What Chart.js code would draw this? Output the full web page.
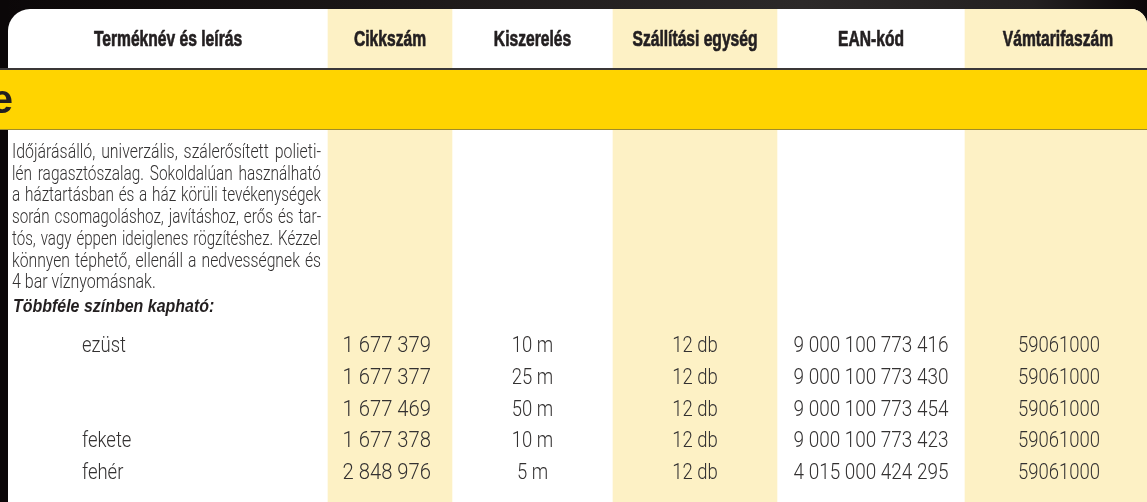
<!DOCTYPE html>
<html lang="hu">
<head>
<meta charset="utf-8">
<title>Ragasztószalag – termékadatok</title>
<script src="https://cdn.jsdelivr.net/npm/chart.js@4.4.1/dist/chart.umd.min.js"></script>
<style>
    html, body { margin: 0; padding: 0; background: #0b0708; }
    #wrap { width: 1147px; height: 502px; position: relative; }
</style>
</head>
<body>
<div id="wrap"><canvas id="table"></canvas></div>
<script>
// ---------- adatok ----------
const columns = ['Terméknév és leírás', 'Cikkszám', 'Kiszerelés', 'Szállítási egység', 'EAN-kód', 'Vámtarifaszám'];
const shadedColumns = [1, 3, 5];
const sectionTitle = 'e';
const descriptionLines = [
    'Időjárásálló, univerzális, szálerősített polieti-',
    'lén ragasztószalag. Sokoldalúan használható',
    'a háztartásban és a ház körüli tevékenységek',
    'során csomagoláshoz, javításhoz, erős és tar-',
    'tós, vagy éppen ideiglenes rögzítéshez. Kézzel',
    'könnyen téphető, ellenáll a nedvességnek és'
];
const descriptionLast = '4 bar víznyomásnak.';
const colorsHeading = 'Többféle színben kapható:';
const colorNames = ['ezüst', '', '', 'fekete', 'fehér'];
const articleNumbers = ['1 677 379', '1 677 377', '1 677 469', '1 677 378', '2 848 976'];
const lengths = ['10 m', '25 m', '50 m', '10 m', '5 m'];
const packUnits = ['12 db', '12 db', '12 db', '12 db', '12 db'];
const eanCodes = ['9 000 100 773 416', '9 000 100 773 430', '9 000 100 773 454', '9 000 100 773 423', '4 015 000 424 295'];
const tariffCodes = ['59061000', '59061000', '59061000', '59061000', '59061000'];

// ---------- elrendezés ----------
const W = 1147, H = 502;
const colEdges = [8, 328, 452, 613, 777, 965, 1147];
const headerTop = 9, headerBottom = 69, bandBottom = 129;
const descTop = 153, descLineH = 21.7, descLeft = 12, descRight = 321;
const rowTop = 331, rowH = 31.6;
const nameX = 82, articleRight = 431;

const INK = '#333131';
const PALE = '#fdf1c5';
const YELLOW = '#ffd400';
const headFont = 'bold 22px "Liberation Sans", Arial, sans-serif';
const bodyFont = '300 22px Roboto, "Liberation Sans", sans-serif';
const descFont = '300 20px Roboto, "Liberation Sans", sans-serif';
const boldItalicFont = 'italic bold 19px "Liberation Sans", Arial, sans-serif';

// szöveg vízszintesen összenyomva (keskeny betűtípus utánzása)
function drawText(ctx, text, x, y, align, font, sx, color, stroke) {
    ctx.save();
    ctx.font = font;
    ctx.fillStyle = color || INK;
    ctx.textAlign = align;
    ctx.textBaseline = 'middle';
    ctx.translate(x, y);
    ctx.scale(sx, 1);
    ctx.fillText(text, 0, 0);
    if (stroke) {
        ctx.strokeStyle = color || INK;
        ctx.lineWidth = stroke;
        ctx.lineJoin = 'round';
        ctx.strokeText(text, 0, 0);
    }
    ctx.restore();
}

// sorkizárt sor
function drawJustified(ctx, text, x0, x1, y, font, sx) {
    ctx.save();
    ctx.font = font;
    const words = text.split(' ');
    const spaceW = ctx.measureText(' ').width;
    const widths = words.map(w => ctx.measureText(w).width);
    const natural = widths.reduce((a, b) => a + b, 0) + spaceW * (words.length - 1);
    const s = Math.min(sx, (x1 - x0) * 0.98 / natural);
    const sum = widths.reduce((a, b) => a + b, 0) * s;
    const gap = (x1 - x0 - sum) / (words.length - 1);
    let cx = x0;
    words.forEach((w, i) => {
        drawText(ctx, w, cx, y, 'left', font, s);
        cx += widths[i] * s + gap;
    });
    ctx.restore();
}

function panelPath(ctx, x0, y0, x1, y1) {
    ctx.beginPath();
    ctx.roundRect(x0, y0, x1 - x0, y1 - y0, [22, 16, 0, 0]);
}

const tablePlugin = {
    id: 'tableChrome',
    beforeDraw(chart) {
        const { ctx, scales: { x, y } } = chart;
        const px = v => x.getPixelForValue(v), py = v => y.getPixelForValue(v);
        ctx.save();
        ctx.fillStyle = '#0b0708';
        ctx.fillRect(0, 0, chart.width, chart.height);
        const g = ctx.createLinearGradient(0, 0, chart.width, 0);
        g.addColorStop(0, '#0b0708');
        g.addColorStop(0.35, '#1c1818');
        g.addColorStop(0.7, '#2c2929');
        g.addColorStop(0.9, '#242121');
        g.addColorStop(1, '#0b0708');
        ctx.fillStyle = g;
        ctx.fillRect(px(colEdges[0]), 0, chart.width, py(headerTop) + 20);
        panelPath(ctx, px(colEdges[0]), py(headerTop), px(W), py(H) + 30);
        ctx.fillStyle = '#ffffff';
        ctx.fill();
        ctx.restore();
    },
    beforeDatasetsDraw(chart) {
        const { ctx, scales: { x, y } } = chart;
        ctx.save();
        panelPath(ctx, x.getPixelForValue(colEdges[0]), y.getPixelForValue(headerTop), x.getPixelForValue(W), y.getPixelForValue(H) + 30);
        ctx.clip();
    },
    afterDatasetsDraw(chart) {
        const { ctx, scales: { x, y } } = chart;
        ctx.restore();
        const px = v => x.getPixelForValue(v), py = v => y.getPixelForValue(v);

        // fejléc szövegek
        const headY = py((headerTop + headerBottom) / 2 + 1);
        columns.forEach((c, i) => {
            const cx = (colEdges[i] + colEdges[i + 1]) / 2 + (i === 5 ? 2 : 0);
            drawText(ctx, c, px(cx), headY, 'center', headFont, 0.71, '#231f20', 0.7);
        });

        // sárga sáv
        ctx.save();
        ctx.fillStyle = YELLOW;
        ctx.fillRect(0, py(headerBottom), chart.width, py(bandBottom) - py(headerBottom));
        ctx.fillStyle = '#3a3737';
        ctx.fillRect(0, py(headerBottom) - 1, chart.width, 2);
        ctx.fillStyle = '#a08c2c';
        ctx.fillRect(0, py(bandBottom), chart.width, 1);
        ctx.font = 'bold 40px "Liberation Sans", Arial, sans-serif';
        ctx.fillStyle = '#231f20';
        ctx.textAlign = 'right';
        ctx.textBaseline = 'alphabetic';
        ctx.fillText(sectionTitle, px(13), py(113));
        ctx.restore();

        // leírás
        descriptionLines.forEach((line, i) => {
            drawJustified(ctx, line, px(descLeft), px(descRight), py(descTop + i * descLineH), descFont, 0.8);
        });
        const lastY = descTop + descriptionLines.length * descLineH;
        drawText(ctx, descriptionLast, px(descLeft), py(lastY), 'left', descFont, 0.8);
        drawText(ctx, colorsHeading, px(descLeft + 1), py(lastY + descLineH + 2), 'left', boldItalicFont, 0.84, '#231f20');

        // termék sorok
        const center = i => (colEdges[i] + colEdges[i + 1]) / 2;
        articleNumbers.forEach((a, r) => {
            const ry = py(rowTop + (r + 0.5) * rowH);
            if (colorNames[r]) drawText(ctx, colorNames[r], px(nameX), ry, 'left', bodyFont, 0.84);
            drawText(ctx, a, px(articleRight), ry, 'right', bodyFont, 0.92);
            drawText(ctx, lengths[r], px(center(2)), ry, 'center', bodyFont, 0.84);
            drawText(ctx, packUnits[r], px(center(3)), ry, 'center', bodyFont, 0.84);
            drawText(ctx, eanCodes[r], px(center(4)), ry, 'center', bodyFont, 0.86);
            drawText(ctx, tariffCodes[r], px(center(5) + 3), ry, 'center', bodyFont, 0.84);
        });
    }
};

// halvány sárga oszlopok: lebegő oszlopok a fejléctől a tábla aljáig
const shadeDatasets = shadedColumns.map(ci => ({
    label: columns[ci],
    data: [{ x: (colEdges[ci] + colEdges[ci + 1]) / 2, y: [headerTop, H + 20] }],
    backgroundColor: PALE,
    borderWidth: 0,
    barThickness: colEdges[ci + 1] - colEdges[ci],
    grouped: false
}));

new Chart(document.getElementById('table'), {
    type: 'bar',
    data: { datasets: shadeDatasets },
    options: {
        responsive: true,
        maintainAspectRatio: false,
        animation: false,
        events: [],
        layout: { padding: 0 },
        plugins: { legend: { display: false }, tooltip: { enabled: false } },
        scales: {
            x: { type: 'linear', min: 0, max: W, offset: false, display: false },
            y: { type: 'linear', min: 0, max: H, reverse: true, display: false }
        }
    },
    plugins: [tablePlugin]
});
</script>
</body>
</html>
